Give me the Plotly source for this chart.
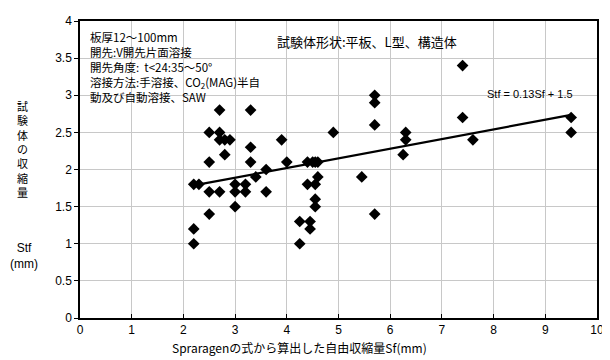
import plotly.graph_objects as go

# Data
sf = [2.2, 2.3, 2.2, 2.2,
      2.5, 2.5, 2.5, 2.5,
      2.7, 2.7, 2.7, 2.7,
      2.8, 2.8, 2.9,
      3.0, 3.0, 3.0,
      3.2, 3.2,
      3.3, 3.3, 3.3, 3.4,
      3.6, 3.6, 3.9, 4.0,
      4.25, 4.25, 4.45, 4.45,
      4.4, 4.5, 4.55, 4.6,
      4.4, 4.55, 4.6, 4.55, 4.55,
      4.9, 5.45,
      5.7, 5.7, 5.7, 5.7,
      6.25, 6.3, 6.3,
      7.4, 7.4, 7.6,
      9.5, 9.5]
stf = [1.8, 1.8, 1.2, 1.0,
       2.5, 2.1, 1.7, 1.4,
       2.8, 2.5, 2.4, 1.7,
       2.4, 2.2, 2.4,
       1.8, 1.7, 1.5,
       1.8, 1.7,
       2.8, 2.3, 2.1, 1.9,
       2.0, 1.7, 2.4, 2.1,
       1.3, 1.0, 1.3, 1.2,
       2.1, 2.1, 2.1, 2.1,
       1.8, 1.8, 1.9, 1.6, 1.5,
       2.5, 1.9,
       3.0, 2.9, 2.6, 1.4,
       2.2, 2.5, 2.4,
       3.4, 2.7, 2.4,
       2.7, 2.5]

slope = 0.13
intercept = 1.5
x_ticks = [0, 1, 2, 3, 4, 5, 6, 7, 8, 9, 10]
y_ticks = [0, 0.5, 1, 1.5, 2, 2.5, 3, 3.5, 4]

info_lines = [
    "板厚12～100mm",
    "開先:V開先片面溶接",
    "開先角度:  t<24:35～50°",
    "溶接方法:手溶接、CO<sub>2</sub>(MAG)半自",
    "動及び自動溶接、SAW",
]
shape_text = "試験体形状:平板、L型、構造体"
eq_text = "Stf = 0.13Sf + 1.5"
x_title = "Spraragenの式から算出した自由収縮量Sf(mm)"
y_title_chars = ["試", "験", "体", "の", "収", "縮", "量"]
y_unit = "Stf<br>(mm)"

line_x = [min(sf), max(sf)]
line_y = [slope * v + intercept for v in line_x]

OFF = 8  # page body margin
W, H = 610 - OFF, 360 - OFF
L, R, T, B = 80 - OFF, 8, 14 - OFF, 50 - OFF
JP = "Noto Sans CJK JP"
LAT = "Liberation Sans, Arial, sans-serif"

fig = go.Figure()
fig.add_trace(go.Scatter(x=line_x, y=line_y, mode="lines",
                         line=dict(color="black", width=2.2), hoverinfo="skip"))
fig.add_trace(go.Scatter(x=sf, y=stf, mode="markers",
                         marker=dict(symbol="diamond", size=9, color="black")))

def px2paper(px, py):
    # px, py are page pixel positions in the 610x360 window
    fx, fy = px - OFF, py - OFF
    return (fx - L) / (W - L - R), (H - B - fy) / (H - T - B)

ann = []
xp, yp = px2paper(88, 20)
ann.append(dict(x=xp, y=yp, xref="paper", yref="paper", text="<br>".join(info_lines),
                showarrow=False, xanchor="left", yanchor="top", align="left",
                font=dict(family=JP, size=11.5, color="black")))
xp, yp = px2paper(370, 35)
ann.append(dict(x=xp, y=yp, xref="paper", yref="paper", text=shape_text, showarrow=False,
                xanchor="center", yanchor="middle", font=dict(family=JP, size=13, color="black")))
xp, yp = px2paper(534, 89)
ann.append(dict(x=xp, y=yp, xref="paper", yref="paper", text=eq_text, showarrow=False,
                xanchor="center", yanchor="middle", font=dict(family=LAT, size=11, color="black")))
xp, yp = px2paper(302, 348)
ann.append(dict(x=xp, y=yp, xref="paper", yref="paper", text=x_title, showarrow=False,
                xanchor="center", yanchor="middle", font=dict(family=JP, size=12, color="black")))
xp, yp = px2paper(22, 145)
ann.append(dict(x=xp, y=yp, xref="paper", yref="paper", text="<br>".join(y_title_chars),
                showarrow=False, xanchor="center", yanchor="middle",
                font=dict(family=JP, size=11, color="black")))
xp, yp = px2paper(23, 255)
ann.append(dict(x=xp, y=yp, xref="paper", yref="paper", text=y_unit, showarrow=False,
                xanchor="center", yanchor="middle", font=dict(family=LAT, size=12, color="black")))

fig.update_layout(
    width=W, height=H,
    margin=dict(l=L, r=R, t=T, b=B),
    paper_bgcolor="white", plot_bgcolor="white",
    showlegend=False,
    annotations=ann,
    font=dict(family=LAT, size=12, color="black"),
)
fig.update_xaxes(range=[0, 10], tickvals=x_ticks, ticktext=[str(v) for v in x_ticks],
                 showgrid=True, gridcolor="#c8c8c8", gridwidth=1,
                 showline=True, linecolor="black", linewidth=1.5, mirror=True,
                 ticks="inside", ticklen=4, tickcolor="black", zeroline=False,
                 tickfont=dict(family=LAT, size=12, color="black"))
fig.update_yaxes(range=[0, 4], tickvals=y_ticks, ticktext=[f"{v:g}" for v in y_ticks],
                 showgrid=True, gridcolor="#c8c8c8", gridwidth=1,
                 showline=True, linecolor="black", linewidth=1.5, mirror=True,
                 ticks="outside", ticklen=4, tickcolor="black", zeroline=False,
                 tickfont=dict(family=LAT, size=12, color="black"))

fig.write_html("out.html")
